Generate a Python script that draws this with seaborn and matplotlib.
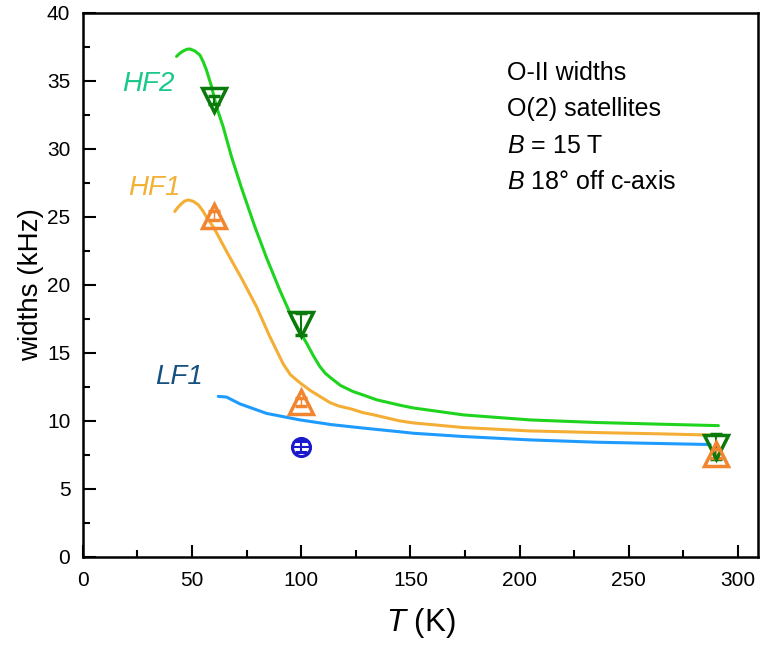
import matplotlib
matplotlib.use("Agg")
import matplotlib.pyplot as plt
import seaborn as sns
from matplotlib.ticker import MultipleLocator

# curve data
hf2_T = [42.9, 44.5, 46, 47.5, 49, 51.3, 53.6, 55, 56.6, 58.9, 61.2, 64.3, 68.1, 72.5, 78.7, 84.1,
         90.2, 96.3, 102.5, 105.5, 108.5, 111, 114, 118, 123.8, 128.4, 134.5, 145.2, 151.3, 174.2,
         204.7, 235.3, 265.8, 291]
hf2_w = [36.8, 37.05, 37.2, 37.32, 37.35, 37.2, 36.9, 36.45, 35.8, 34.6, 33.1, 31.6, 29.4, 27.2, 24.3, 22.0,
         19.6, 17.4, 15.7, 14.8, 14.0, 13.5, 13.1, 12.6, 12.15, 11.9, 11.55, 11.15, 10.95, 10.44,
         10.07, 9.88, 9.75, 9.65]

hf1_T = [42.1, 43.5, 45, 46.5, 48.2, 50.5, 52.8, 54.7, 56.6, 60, 66, 72.6, 79.5, 85.6, 91.7, 95,
         99.4, 104, 108.5, 113.1, 117, 122.3, 128.4, 133, 145, 151.3, 174.2, 204.7, 235.3, 265.8, 288.7]
hf1_w = [25.4, 25.7, 25.95, 26.15, 26.25, 26.15, 25.9, 25.5, 25.0, 24.2, 22.4, 20.5, 18.4, 16.2, 14.2, 13.4,
         12.8, 12.25, 11.8, 11.35, 11.1, 10.9, 10.6, 10.45, 10.0, 9.85, 9.51, 9.26, 9.14, 9.04, 8.95]

lf1_T = [62, 65.8, 71.9, 84.1, 99.4, 114, 129, 145, 151.3, 174.2, 204.7, 235.3, 265.8, 287.2]
lf1_w = [11.8, 11.75, 11.25, 10.55, 10.07, 9.72, 9.46, 9.2, 9.09, 8.85, 8.6, 8.43, 8.33, 8.26]

# measured points
hf2_pts_T = [60, 100, 290]
hf2_pts_w = [33.6, 17.1, 8.1]
hf2_pts_err = [0.3, 0.8, 0.9]

hf1_pts_T = [60, 100, 290]
hf1_pts_w = [25.1, 11.4, 7.6]
hf1_pts_err = [0.3, 0.3, 0.3]

lf1_pts_T = [100]
lf1_pts_w = [8.1]
lf1_pts_err = [0.4]

info_lines = ["O-II widths", "O(2) satellites", "$B$ = 15 T", "$B$ 18° off c-axis"]

sns.set_style("white")
plt.rcParams["font.family"] = ["Liberation Sans", "DejaVu Sans"]
plt.rcParams["mathtext.fontset"] = "custom"
plt.rcParams["mathtext.it"] = "Liberation Sans:italic"
plt.rcParams["mathtext.rm"] = "Liberation Sans"
for k in ["text.color", "axes.labelcolor", "xtick.color", "ytick.color"]:
    plt.rcParams[k] = "black"

fig = plt.figure(figsize=(7.6, 6.46), dpi=100)
ax = fig.add_axes([0.109, 0.138, 0.888, 0.842])

c_hf2_line, c_hf2_pt, c_hf2_lab = "#1fd41f", "#0a7a0a", "#1ac98a"
c_hf1_line, c_hf1_pt, c_hf1_lab = "#f4ae35", "#f28530", "#f2b035"
c_lf1_line, c_lf1_pt, c_lf1_lab = "#1e9bff", "#1a1acc", "#15507f"

for T, w, c in [(hf2_T, hf2_w, c_hf2_line), (hf1_T, hf1_w, c_hf1_line), (lf1_T, lf1_w, c_lf1_line)]:
    sns.lineplot(x=T, y=w, ax=ax, color=c, linewidth=2.2, sort=False)

ax.errorbar(hf2_pts_T, hf2_pts_w, yerr=hf2_pts_err, fmt="v", ms=17, mfc="none",
            mec=c_hf2_pt, mew=2.5, ecolor=c_hf2_pt, elinewidth=1.5, capsize=4, capthick=1.5)
ax.errorbar(hf1_pts_T, hf1_pts_w, yerr=hf1_pts_err, fmt="^", ms=17, mfc="none",
            mec=c_hf1_pt, mew=2.5, ecolor=c_hf1_pt, elinewidth=1.0, capsize=4, capthick=1.0)
ax.errorbar(lf1_pts_T, lf1_pts_w, yerr=lf1_pts_err, fmt="o", ms=13, mfc="none",
            mec=c_lf1_pt, mew=2.2, ecolor=c_lf1_pt, elinewidth=1.5, capsize=4, capthick=1.5)
ax.plot(lf1_pts_T, lf1_pts_w, marker="_", ms=13, mew=1.5, color=c_lf1_pt, ls="none")

ax.text(17.9, 34.8, "HF2", color=c_hf2_lab, fontsize=20, style="italic", va="center")
ax.text(20.6, 27.1, "HF1", color=c_hf1_lab, fontsize=20, style="italic", va="center")
ax.text(33, 13.2, "LF1", color=c_lf1_lab, fontsize=20, style="italic", va="center")

for yy, s in zip([35.55, 32.9, 30.2, 27.6], info_lines):
    ax.text(194, yy, s, fontsize=18, va="center", ha="left")

ax.set_xlim(0, 309)
ax.set_ylim(0, 40)
ax.xaxis.set_major_locator(MultipleLocator(50))
ax.xaxis.set_minor_locator(MultipleLocator(25))
ax.yaxis.set_major_locator(MultipleLocator(5))
ax.yaxis.set_minor_locator(MultipleLocator(2.5))
ax.tick_params(which="both", direction="in", top=False, right=False, bottom=True, left=True,
               width=1.5, labelsize=15, colors="black")
ax.tick_params(which="major", length=9)
ax.tick_params(which="minor", length=5)
ax.tick_params(axis="y", pad=9)
ax.tick_params(axis="x", pad=10)
for sp in ax.spines.values():
    sp.set_linewidth(1.8)
    sp.set_color("black")

ax.set_xlabel("$T$ (K)", fontsize=22.5)
ax.set_ylabel("widths (kHz)", fontsize=20)
ax.xaxis.set_label_coords(0.5, -0.09)
ax.yaxis.set_label_coords(-0.058, 0.5)

fig.savefig("out.png", dpi=100)
